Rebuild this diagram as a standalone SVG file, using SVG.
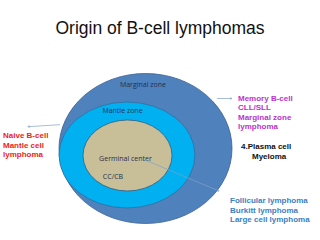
<svg xmlns="http://www.w3.org/2000/svg" width="320" height="240" viewBox="0 0 320 240">
<defs>
<style>
.zone{stroke-width:0.8}
.zl{font-family:"Open Sans","Liberation Sans",sans-serif;font-size:7px;fill:#1f3050}
.lb{font-family:"Liberation Sans",Arial,sans-serif;font-size:8px;font-weight:bold}
.conn{stroke:#7f9fc8;stroke-width:0.7;fill:none}
</style>
<marker id="ah" viewBox="0 0 6 6" refX="5" refY="3" markerWidth="4" markerHeight="4" orient="auto">
<path d="M0,0.5 L6,3 L0,5.5" fill="none" stroke="#7f9fc8" stroke-width="1"/>
</marker>
</defs>
<rect width="320" height="240" fill="#ffffff"/>
<text x="160" y="34" text-anchor="middle" font-family="'Liberation Sans',Arial,sans-serif" font-size="17.5" fill="#111">Origin of B-cell lymphomas</text>
<g id="marginal-zone">
<ellipse class="zone" cx="145.5" cy="148.5" rx="86.5" ry="75" fill="#4f81bd" stroke="#3a5f95"/>
<text class="zl" x="143" y="87" text-anchor="middle">Marginal zone</text>
</g>
<g id="mantle-zone">
<ellipse class="zone" cx="127" cy="155" rx="68" ry="53" fill="#00b0f0" stroke="#3a6a9a"/>
<text class="zl" x="122.5" y="113" text-anchor="middle">Mantle zone</text>
</g>
<g id="germinal-center">
<ellipse class="zone" cx="127.5" cy="155.5" rx="44.5" ry="35.5" fill="#c8bf98" stroke="#3a5a80"/>
<text class="zl" x="125.5" y="161" text-anchor="middle">Germinal center</text>
<text class="zl" x="113" y="178.5" text-anchor="middle">CC/CB</text>
</g>
<g id="connectors">
<line class="conn" x1="60" y1="124.7" x2="28" y2="126.7" marker-end="url(#ah)"/>
<line class="conn" x1="217" y1="98.5" x2="232" y2="98.5" marker-end="url(#ah)"/>
<line class="conn" x1="145" y1="160" x2="219" y2="191" marker-end="url(#ah)"/>
</g>
<g id="naive">
<text class="lb" fill="#ee1c1c" x="3" y="137.5">Naive B-cell</text>
<text class="lb" fill="#ee1c1c" x="3" y="147.5">Mantle cell</text>
<text class="lb" fill="#ee1c1c" x="3" y="157">lymphoma</text>
</g>
<g id="memory">
<text class="lb" fill="#bb33cc" x="238" y="100.5">Memory B-cell</text>
<text class="lb" fill="#bb33cc" x="238" y="110">CLL/SLL</text>
<text class="lb" fill="#bb33cc" x="238" y="119.5">Marginal zone</text>
<text class="lb" fill="#bb33cc" x="238" y="129">lymphoma</text>
</g>
<g id="plasma">
<text class="lb" fill="#111" x="241" y="148.5">4.Plasma cell</text>
<text class="lb" fill="#111" x="252" y="158.5">Myeloma</text>
</g>
<g id="follicular">
<text class="lb" fill="#3a80c4" x="230" y="203">Follicular lymphoma</text>
<text class="lb" fill="#3a80c4" x="230" y="212.5">Burkitt lymphoma</text>
<text class="lb" fill="#3a80c4" x="230" y="222">Large cell lymphoma</text>
</g>
</svg>
